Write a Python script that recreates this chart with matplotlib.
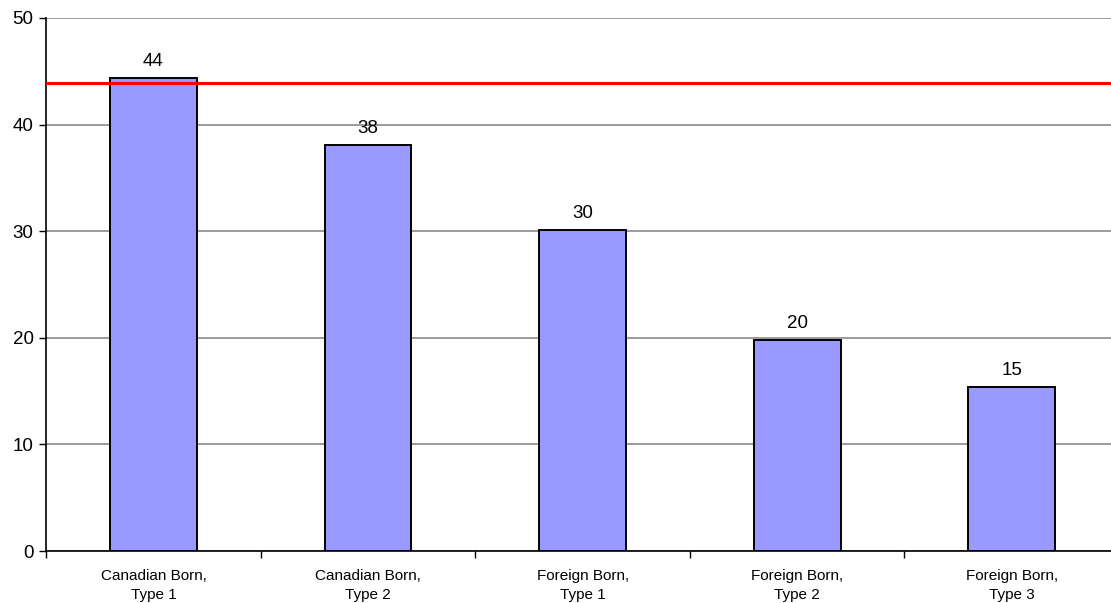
import matplotlib
matplotlib.use("Agg")
import matplotlib.pyplot as plt
import numpy as np

categories = ["Canadian Born,\nType 1", "Canadian Born,\nType 2", "Foreign Born,\nType 1",
              "Foreign Born,\nType 2", "Foreign Born,\nType 3"]
values = [44.4, 38.1, 30.1, 19.8, 15.4]
reference_level = 43.9
y_ticks = [0, 10, 20, 30, 40, 50]

plt.rcParams['font.family'] = ['Liberation Sans', 'DejaVu Sans']

fig = plt.figure(figsize=(11.11, 6.03), dpi=100)
W, H = 1111, 603
left, right, top, bottom = 46.2, 1119, 18, 551
ax = fig.add_axes([left / W, 1 - bottom / H, (right - left) / W, (bottom - top) / H])

x = np.arange(len(categories))
ax.bar(x, values, width=0.405, color="#9999FF", edgecolor="black", linewidth=1.4, zorder=3)
for xi, v in zip(x, values):
    ax.text(xi, v + 0.75, f"{v:.0f}", ha="center", va="bottom", fontsize=13.5, zorder=4)

ax.axhline(reference_level, color="#FF0000", linewidth=2.2, zorder=5)

ax.set_xlim(-0.5, len(categories) - 0.5)
ax.set_ylim(0, 50)
ax.set_yticks(y_ticks)
ax.yaxis.grid(True, color="#808080", linewidth=1.1, zorder=0)
ax.tick_params(axis="y", labelsize=13.5, length=5, width=1, direction="out", pad=4)

ax.set_xticks(np.arange(len(categories) + 1) - 0.5)
ax.set_xticklabels([])
ax.set_xticks(x, minor=True)
ax.set_xticklabels(categories, minor=True, fontsize=11, linespacing=1.45)
ax.tick_params(axis="x", which="major", length=5, width=1, direction="out")
ax.tick_params(axis="x", which="minor", length=0, pad=13)

for s in ["top", "right"]:
    ax.spines[s].set_visible(False)
ax.spines["left"].set_linewidth(1.2)
ax.spines["bottom"].set_linewidth(1.2)

fig.savefig("out.png", dpi=100)
